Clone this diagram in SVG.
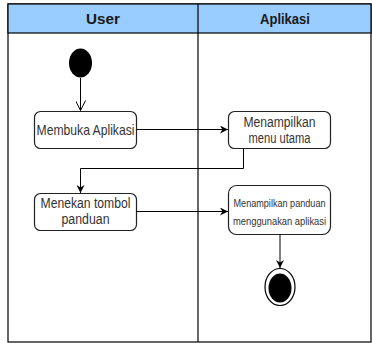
<svg xmlns="http://www.w3.org/2000/svg" width="372" height="343" viewBox="0 0 372 343">
<defs>
<style>
.lane{fill:#ffffff;stroke:#000;stroke-width:1.2}
.hdr{fill:#99ccff;stroke:#000;stroke-width:1.2}
.hdrt{font-family:"Liberation Sans",Arial,sans-serif;font-weight:bold;font-size:15px;fill:#1a1a1a;text-anchor:middle}
.box{fill:#fff;stroke:#222;stroke-width:1.2}
.t{font-family:"Liberation Sans",Arial,sans-serif;font-size:15px;fill:#333;text-anchor:middle}
.t2{font-family:"Liberation Sans",Arial,sans-serif;font-size:14px;fill:#333;text-anchor:middle}
.ts{font-family:"Liberation Sans",Arial,sans-serif;font-size:11px;fill:#333;text-anchor:middle}
.c{fill:none;stroke:#000;stroke-width:1}
</style>
<marker id="af" viewBox="0 0 10 10" refX="10" refY="5" markerWidth="8" markerHeight="8" orient="auto" markerUnits="userSpaceOnUse">
<path d="M0,0 L10,5 L0,10 L3,5 Z" fill="#000"/>
</marker>
<marker id="ao" viewBox="0 0 10 10" refX="10" refY="5" markerWidth="12" markerHeight="10" orient="auto" markerUnits="userSpaceOnUse">
<path d="M0,0 L10,5 L0,10" fill="none" stroke="#000" stroke-width="1"/>
</marker>
</defs>
<g id="lanes">
<rect class="lane" x="8" y="4" width="363" height="338"/>
<rect class="hdr" x="8" y="4" width="363" height="29"/>
<line x1="198" y1="4" x2="198" y2="342" stroke="#000" stroke-width="1.2"/>
<text class="hdrt" x="103" y="24" textLength="34" lengthAdjust="spacingAndGlyphs">User</text>
<text class="hdrt" x="285" y="24" textLength="50" lengthAdjust="spacingAndGlyphs">Aplikasi</text>
</g>
<g id="start">
<ellipse cx="80.5" cy="63" rx="11.5" ry="14.5" fill="#000"/>
</g>
<g id="membuka">
<rect class="box" x="34.5" y="111.5" width="102" height="37" rx="6"/>
<text class="t" x="85.5" y="135" textLength="98" lengthAdjust="spacingAndGlyphs">Membuka Aplikasi</text>
</g>
<g id="menu">
<rect class="box" x="228.5" y="111.5" width="102" height="37" rx="6"/>
<text class="t2" x="279.5" y="127" textLength="72" lengthAdjust="spacingAndGlyphs">Menampilkan</text>
<text class="t2" x="279.5" y="143" textLength="62" lengthAdjust="spacingAndGlyphs">menu utama</text>
</g>
<g id="menekan">
<rect class="box" x="34.5" y="193.5" width="102" height="37" rx="6"/>
<text class="t2" x="85.5" y="208" textLength="90" lengthAdjust="spacingAndGlyphs">Menekan tombol</text>
<text class="t2" x="85.5" y="224" textLength="48" lengthAdjust="spacingAndGlyphs">panduan</text>
</g>
<g id="panduan">
<rect class="box" x="228.5" y="185.5" width="102" height="49" rx="8"/>
<text class="ts" x="279.5" y="207" textLength="92" lengthAdjust="spacingAndGlyphs">Menampilkan panduan</text>
<text class="ts" x="279.5" y="225" textLength="93" lengthAdjust="spacingAndGlyphs">menggunakan aplikasi</text>
</g>
<g id="end">
<ellipse cx="280" cy="287" rx="15" ry="18.5" fill="#fff" stroke="#000" stroke-width="1.2"/>
<ellipse cx="280" cy="288" rx="11.5" ry="14.5" fill="#000"/>
</g>
<g id="connectors">
<path class="c" d="M80.5,78 L80.5,110.5" marker-end="url(#ao)"/>
<path class="c" d="M136.5,129.5 L228,129.5" marker-end="url(#af)"/>
<path class="c" d="M243.5,148.5 L243.5,168.5 L80.5,168.5 L80.5,193" marker-end="url(#af)"/>
<path class="c" d="M136.5,211.5 L228,211.5" marker-end="url(#af)"/>
<path class="c" d="M280,234.5 L280,268" marker-end="url(#af)"/>
</g>
</svg>
